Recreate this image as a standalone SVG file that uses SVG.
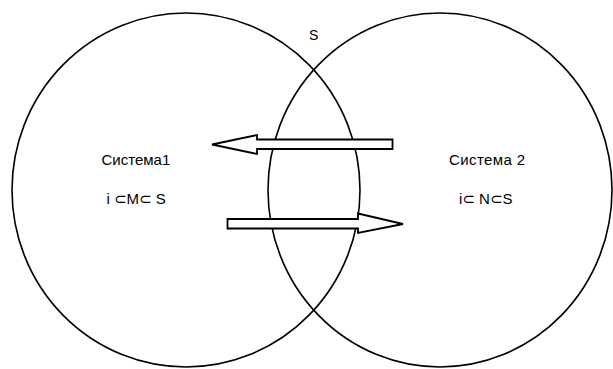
<svg xmlns="http://www.w3.org/2000/svg" width="613" height="369" viewBox="0 0 613 369">
<style>
.set{fill:none;stroke:#000;stroke-width:1.6}
.arrow{fill:#fff;stroke:#000;stroke-width:1.8;stroke-linejoin:miter}
text{font-family:"Liberation Sans",Arial,"DejaVu Sans",sans-serif;font-size:15px;fill:#000}
</style>
<rect width="613" height="369" fill="#fff"/>
<g id="system1">
<ellipse class="set" cx="186" cy="190" rx="174" ry="177"/>
<text x="101.5" y="165">Система1</text>
<text x="106.5" y="204">i ⊂M⊂ S</text>
</g>
<g id="system2">
<ellipse class="set" cx="440" cy="190" rx="172" ry="177"/>
<text x="449" y="165" letter-spacing="0.4">Система 2</text>
<text x="459" y="204">i⊂ N⊂S</text>
</g>
<g id="label-s">
<text x="309" y="40" style="font-size:14px">S</text>
</g>
<g id="connectors">
<polygon class="arrow" points="392.5,139.5 257,139.5 257,135 212,144.5 257,154 257,149 392.5,149"/>
<polygon class="arrow" points="227.5,219 358,219 358,213.5 403,224 358,233 358,228.5 227.5,228.5"/>
</g>
</svg>
